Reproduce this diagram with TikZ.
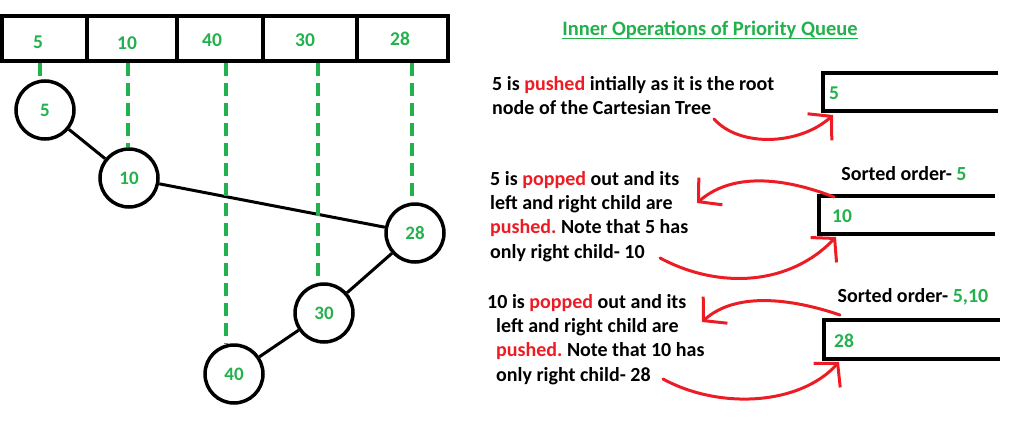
\documentclass[tikz,border=0pt]{standalone}
\usepackage{fontspec}
\setmainfont{Carlito}
\usetikzlibrary{positioning,arrows.meta}
\definecolor{pgreen}{HTML}{22B14C}
\definecolor{pred}{HTML}{ED1C24}
\frenchspacing
\tikzset{
  keynode/.style={draw, circle, line width=3.5pt, minimum size=58pt, inner sep=0pt,
    text=pgreen, font=\fontsize{19}{22}\selectfont\bfseries},
  keytext/.style={text=pgreen, inner sep=0pt, font=\fontsize{19.5}{22}\selectfont\bfseries},
  treeedge/.style={line width=3pt},
  guide/.style={pgreen, line width=4pt, dash pattern=on 13pt off 7pt},
  note/.style={align=left, inner sep=0pt, anchor=north west,
    font=\fontsize{20}{24.3}\selectfont\bfseries},
  qbox/.style={line width=4pt},
  swing/.style={pred, line width=3pt, line cap=round,
    -{Straight Barb[length=16pt, width=36pt, line width=3pt]}}
}

\begin{document}
\begin{tikzpicture}[x=1pt, y=-1pt]
  \useasboundingbox (0,0) rectangle (1024,420);
  % the array
  \draw[qbox] (2,16) rectangle (448,61);
  \foreach \x in {87,177,263,357}
    \draw[line width=3.5pt] (\x,16) -- (\x,61);
  \foreach \v/\x/\y in {5/38/42, 10/127/43, 40/212/40, 30/305/40, 28/400/39}
    \node[keytext] (a\v) at (\x,\y) {\v};

  % cartesian tree
  \node[keynode] (n5)  at (45,110)  {5};
  \node[keynode] (n10) at (129,178) {10};
  \node[keynode] (n28) at (415,233) {28};
  \node[keynode] (n30) at (324,313) {30};
  \node[keynode] (n40) at (234,374) {40};
  \draw[treeedge] (n5) -- (n10);
  \draw[treeedge] (n10) -- (n28);
  \draw[treeedge] (n28) -- (n30);
  \draw[treeedge] (n30) -- (n40);

  \foreach \v/\x in {5/40, 10/128, 40/226, 30/318, 28/412} {
    \coordinate (g\v) at (\x,63);
    \draw[guide] (g\v) -- (g\v |- n\v.north);
  }

  % priority queue side
  \node[keytext, font=\fontsize{20.5}{22}\selectfont\bfseries] (title) at (710,30)
    {Inner Operations of Priority Queue};
  \draw[pgreen, line width=1.4pt] ([yshift=-3pt]title.base west) -- ([yshift=-3pt]title.base east);

  \node[note] (t1) at (492,76)
    {5 is \textcolor{pred}{pushed} intially as it is the root\\node of the Cartesian Tree};
  \node[note] (t2) at (490,171)
    {5 is \textcolor{pred}{popped} out and its\\left and right child are\\\textcolor{pred}{pushed.} Note that 5 has\\only right child- 10};
  \node[note] (t3) at (496,294)
    {\hspace*{-9pt}10 is \textcolor{pred}{popped} out and its\\left and right child are\\\textcolor{pred}{pushed.} Note that 10 has\\only right child- 28};

  \draw[qbox] (998,73) -| (823,111) -- (998,111);
  \draw[qbox] (995,196) -| (819,234) -- (995,234);
  \draw[qbox] (1000,320) -| (824,359) -- (1000,359);
  \coordinate (q1) at (833,115);
  \coordinate (q2) at (836,237);
  \coordinate (q3) at (839,362);
  \coordinate (r2) at (834,197);
  \coordinate (r3) at (840,315);

  \node[keytext, anchor=west] (b5)  at (829,93)  {5};
  \node[keytext, anchor=west] (b10) at (832,216) {10};
  \node[keytext, anchor=west] (b28) at (834,341) {28};

  \node[note, anchor=center] (s1) at (904,174) {Sorted order- \textcolor{pgreen}{5}};
  \node[note, anchor=center] (s2) at (913,297) {Sorted order- \textcolor{pgreen}{5,10}};

  \coordinate (e1) at (714,119);
  \coordinate (e2) at (660,258);
  \coordinate (e3) at (663,379);
  \coordinate (p2) at (697,203);
  \coordinate (p3) at (702,322);
  \draw[swing] (e1) .. controls (740,148) and (800,145) .. (q1);
  \draw[swing] (r2) .. controls (790,180) and (735,170) .. (p2);
  \draw[swing] (e2) .. controls (720,290) and (790,285) .. (q2);
  \draw[swing] (r3) .. controls (790,298) and (735,292) .. (p3);
  \draw[swing] (e3) .. controls (720,410) and (800,405) .. (q3);
\end{tikzpicture}
\end{document}
